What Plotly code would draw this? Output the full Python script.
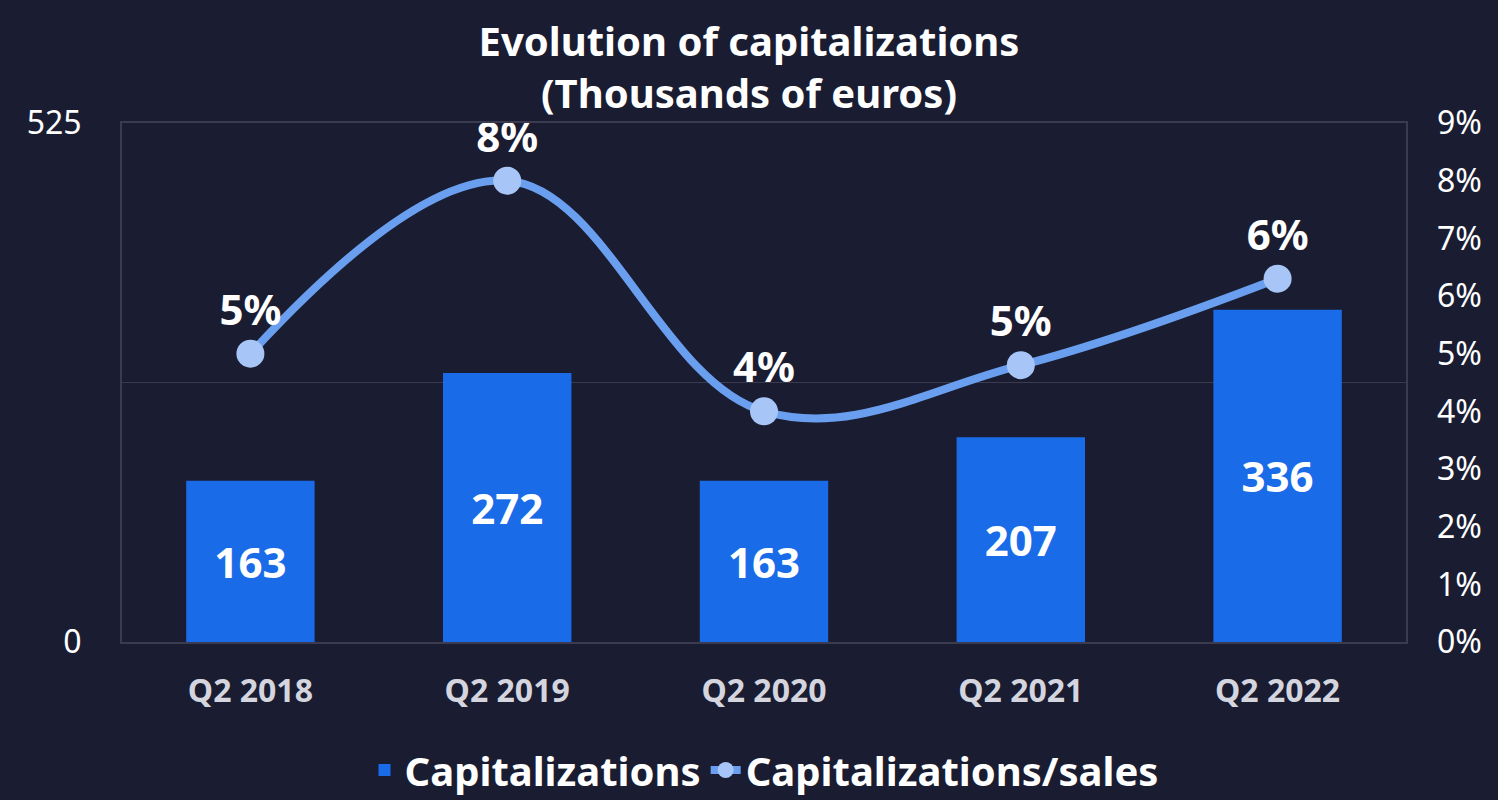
import plotly.graph_objects as go

# chart data
quarters = ["Q2 2018", "Q2 2019", "Q2 2020", "Q2 2021", "Q2 2022"]
capitalizations = [163, 272, 163, 207, 336]
cap_sales_pct = [5.0, 8.0, 4.0, 4.8, 6.3]

bg = "#1a1d32"
grid = "#3a3b4e"

fig = go.Figure()
fig.add_trace(go.Bar(
    x=quarters, y=capitalizations, name="Capitalizations",
    marker=dict(color="#1a6be8", line=dict(width=0)),
    width=0.5,
    text=capitalizations, textposition="inside", insidetextanchor="middle",
    textfont=dict(family="Noto Sans", size=42, color="white", weight="bold"),
    textangle=0,
))
fig.add_trace(go.Scatter(
    x=quarters, y=cap_sales_pct, name="Capitalizations/sales", yaxis="y2",
    mode="lines+markers+text",
    line=dict(color="#6a9ff0", width=8, shape="spline", smoothing=1.1),
    marker=dict(color="#a8c5f7", size=28),
    texttemplate="%{y:.0f}%", textposition="top center",
    textfont=dict(family="Noto Sans", size=42, color="white", weight="bold"),
))

fig.update_layout(
    width=1498, height=800,
    paper_bgcolor=bg, plot_bgcolor=bg,
    font=dict(family="Noto Sans", color="white"),
    margin=dict(l=122, r=92, t=123, b=158),
    title=dict(
        text="<b>Evolution of capitalizations<br>(Thousands of euros)</b>",
        x=0.5, xanchor="center", yref="container", y=1 - 56 / 800, yanchor="middle",
        font=dict(family="Noto Sans", size=40, color="white"),
    ),
    showlegend=True,
    legend=dict(
        orientation="h", x=0.5, xanchor="center",
        yref="container", y=30 / 800, yanchor="middle",
        font=dict(family="Noto Sans", size=40, color="white", weight="bold"),
        bgcolor="rgba(0,0,0,0)",
    ),
    xaxis=dict(
        showline=True, linecolor=grid, linewidth=2, mirror=True,
        showgrid=False, ticks="",
        tickfont=dict(family="Noto Sans", size=32, color="#d4d5df", weight="bold"),
        ticklabelstandoff=20,
    ),
    yaxis=dict(
        range=[0, 525], tickvals=[0, 262.5, 525], ticktext=["0", "", "525"],
        showgrid=True, gridcolor=grid, gridwidth=1,
        showline=True, linecolor=grid, linewidth=2, mirror=True,
        zeroline=False,
        tickfont=dict(family="Noto Sans", size=32, color="white"),
        ticklabelstandoff=32,
    ),
    yaxis2=dict(
        overlaying="y", side="right", range=[0, 9], dtick=1,
        ticksuffix="%", showgrid=False, zeroline=False,
        tickfont=dict(family="Noto Sans", size=32, color="white"),
        ticklabelstandoff=30,
    ),
)

fig.write_html("out.html", config={"displayModeBar": False},
               post_script="document.body.style.margin='0';")
